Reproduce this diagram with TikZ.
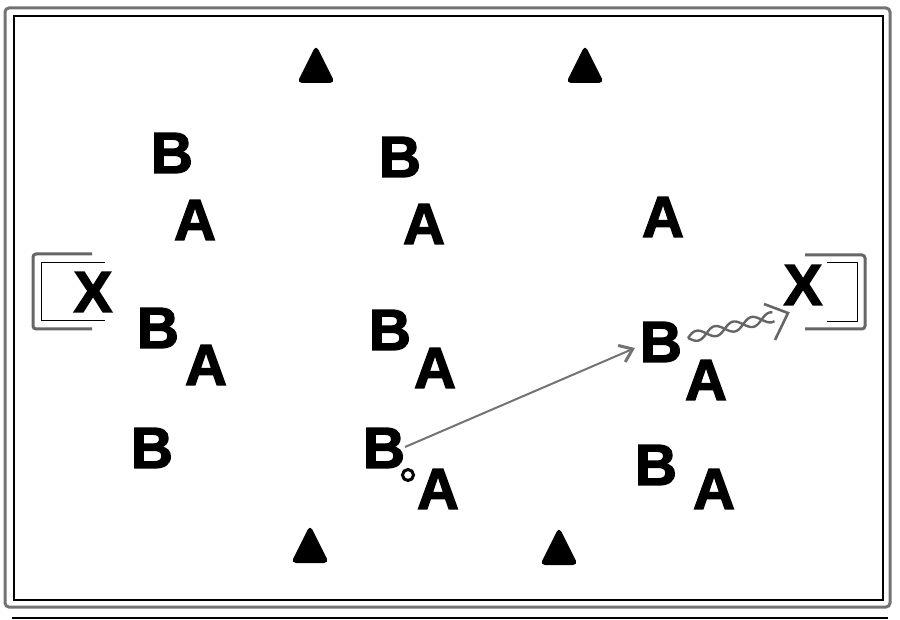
\documentclass[tikz,border=0pt]{standalone}
\usepackage{fontspec}
\setmainfont{Liberation Sans}
\newfontfamily\playerfont{Liberation Sans Bold}[FakeBold=2.4]
\usetikzlibrary{arrows.meta}
\begin{document}
\begin{tikzpicture}[x=1pt,y=-1pt,
  player/.style={font=\playerfont\fontsize{58}{58}\selectfont, inner sep=0pt},
  cone/.style={fill=black, rounded corners=5pt},
  frameout/.style={draw=black!55, line width=3pt, rounded corners=4pt},
  framein/.style={draw=black, line width=1.3pt},
  goalout/.style={draw=black!60, line width=3pt, rounded corners=3pt},
  goalin/.style={draw=black, line width=1pt},
  pass/.style={draw=black!55, line width=2pt, -{Straight Barb[length=12pt,width=18pt,line width=3pt]}},
  drib/.style={draw=black!60, line width=2.4pt},
  ballst/.style={circle, draw=black, line width=3pt, minimum size=11pt, inner sep=0pt}
]
\useasboundingbox (0,0) rectangle (900,620);
% frame
\draw[frameout] (5,8) rectangle (890,607);
\draw[framein] (14,16) rectangle (883,600);
\draw[line width=2pt] (12,618) -- (888,618);
% cones
\newcommand\conemark[2]{\fill[cone] ({#1-19},{#2+18}) -- (#1,{#2-20}) -- ({#1+19},{#2+18}) -- cycle;}
\conemark{316}{65}
\conemark{585}{65}
\conemark{310}{545}
\conemark{559}{547}
% goals
\draw[goalout] (92,254) -- (33,254) -- (33,329) -- (92,329);
\draw[goalin] (105,263) -- (41,263) -- (41,321) -- (105,321);
\draw[goalout] (805,255) -- (865,255) -- (865,329) -- (805,329);
\draw[goalin] (827,263) -- (857,263) -- (857,322) -- (827,322);
% players
\node[player] (b1) at (172,153) {B};
\node[player] (a1) at (195,220) {A};
\node[player] (b2) at (400,157) {B};
\node[player] (a2) at (424,224) {A};
\node[player] (a3) at (663,217) {A};
\node[player] (x1) at (93,292) {X};
\node[player] (b3) at (158,328) {B};
\node[player] (a4) at (206,365) {A};
\node[player] (b4) at (390,330) {B};
\node[player] (a5) at (435,368) {A};
\node[player] (b5) at (661,342) {B};
\node[player] (a6) at (706,380) {A};
\node[player] (x2) at (803,285) {X};
\node[player] (b6) at (152,448) {B};
\node[player] (b7) at (384,448) {B};
\node[player] (a7) at (438,489) {A};
\node[player] (b8) at (656,465) {B};
\node[player] (a8) at (714,489) {A};
% ball
\node[ballst] (ball) at (408,475) {};
% pass
\coordinate (p0) at (405,447);
\coordinate (p1) at (635,348);
\draw[pass] (p0) -- (p1);
% dribble (double wavy) to X
\coordinate (d0) at (688,338);
\coordinate (d1) at (788,313);
\begin{scope}[shift={(d0)}, rotate=14.0]
  \draw[drib] plot[domain=0:88, samples=120, smooth] (\x, {5*sin(\x*9.5)});
  \draw[drib] plot[domain=0:88, samples=120, smooth] (\x, {-5*sin(\x*9.5)});
\end{scope}
\draw[drib, line width=2.6pt] (764,304) -- (d1) -- (775,340);
\end{tikzpicture}
\end{document}
